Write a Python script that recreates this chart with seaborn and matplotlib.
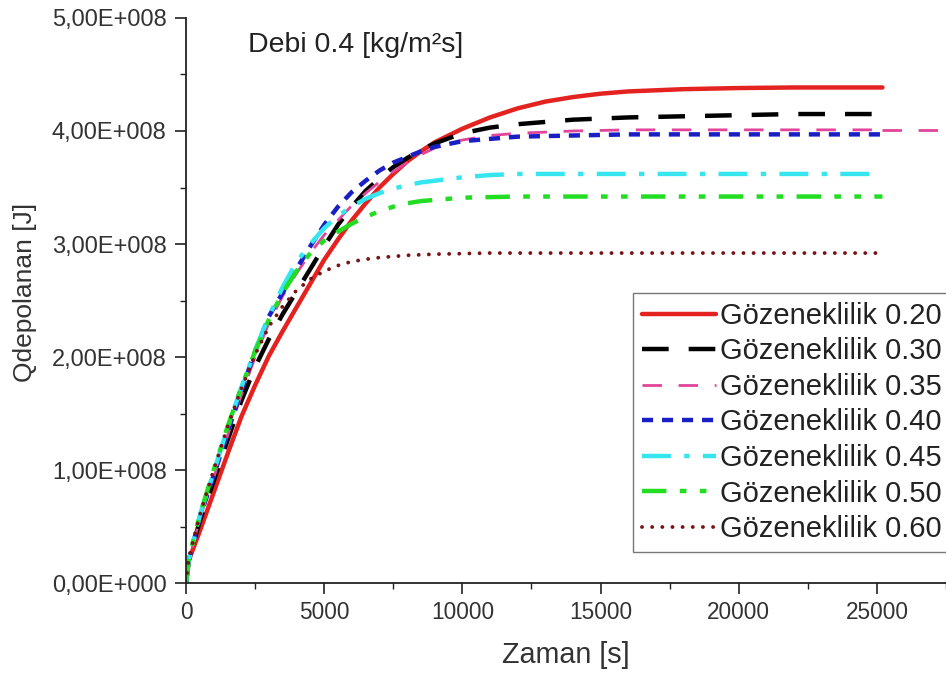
import matplotlib
matplotlib.use("Agg")
import matplotlib.pyplot as plt
import seaborn as sns
import pandas as pd
from matplotlib.ticker import MultipleLocator, FixedLocator

sns.set_style("ticks")
plt.rcParams['font.family'] = ['Liberation Sans', 'DejaVu Sans']

# Time [s]
zaman = [0, 100, 500, 1000, 1500, 2000, 2500, 3000, 3500, 4000, 4500, 5000,
         5500, 6000, 6500, 7000, 7500, 8000, 8500, 9000, 10000, 11000, 12000,
         13000, 14000, 15000, 16000, 18000, 20000, 22000, 25200]

# Stored energy, in units of 1e8 J
q_020 = [0, 0.20, 0.46, 0.80, 1.14, 1.47, 1.75, 2.01, 2.23, 2.44, 2.65, 2.86,
         3.04, 3.21, 3.36, 3.50, 3.62, 3.73, 3.82, 3.90, 4.02, 4.12, 4.20,
         4.26, 4.30, 4.33, 4.35, 4.37, 4.38, 4.385, 4.385]
q_030 = [0, 0.20, 0.55, 0.90, 1.26, 1.61, 1.91, 2.16, 2.38, 2.58, 2.78, 2.98,
         3.17, 3.33, 3.47, 3.58, 3.68, 3.76, 3.83, 3.89, 3.98, 4.03, 4.06,
         4.08, 4.10, 4.11, 4.12, 4.13, 4.14, 4.15, 4.15]
q_035 = [0, 0.20, 0.57, 0.93, 1.30, 1.66, 2.00, 2.30, 2.54, 2.74, 2.92, 3.08,
         3.21, 3.34, 3.45, 3.55, 3.64, 3.72, 3.79, 3.85, 3.92, 3.96, 3.98,
         3.99, 4.00, 4.005, 4.01, 4.01, 4.01, 4.01, 4.01]
q_040 = [0, 0.20, 0.58, 0.95, 1.33, 1.70, 2.05, 2.36, 2.57, 2.78, 2.98, 3.17,
         3.33, 3.46, 3.56, 3.65, 3.72, 3.77, 3.82, 3.86, 3.91, 3.93, 3.95,
         3.955, 3.96, 3.965, 3.97, 3.97, 3.97, 3.97, 3.97]
q_045 = [0, 0.20, 0.60, 0.98, 1.37, 1.73, 2.06, 2.36, 2.62, 2.84, 3.00, 3.14,
         3.25, 3.33, 3.40, 3.45, 3.49, 3.52, 3.545, 3.56, 3.59, 3.61, 3.62,
         3.62, 3.62, 3.62, 3.62, 3.62, 3.62, 3.62, 3.62]
q_050 = [0, 0.22, 0.60, 1.00, 1.38, 1.73, 2.05, 2.33, 2.57, 2.76, 2.92, 3.03,
         3.11, 3.18, 3.24, 3.29, 3.33, 3.36, 3.38, 3.39, 3.41, 3.415, 3.42,
         3.42, 3.42, 3.42, 3.42, 3.42, 3.42, 3.42, 3.42]
q_060 = [0, 0.22, 0.60, 1.00, 1.38, 1.72, 2.02, 2.27, 2.45, 2.59, 2.69, 2.76,
         2.81, 2.845, 2.865, 2.88, 2.89, 2.90, 2.905, 2.91, 2.915, 2.92, 2.92,
         2.92, 2.92, 2.92, 2.92, 2.92, 2.92, 2.92, 2.92]

# the 0.35 series continues beyond the plotted range
zaman_035_ext = [25200, 28000]
q_035_ext = [4.01, 4.01]

labels = ["Gözeneklilik 0.20", "Gözeneklilik 0.30", "Gözeneklilik 0.35",
          "Gözeneklilik 0.40", "Gözeneklilik 0.45", "Gözeneklilik 0.50",
          "Gözeneklilik 0.60"]
series = [q_020, q_030, q_035, q_040, q_045, q_050, q_060]

yticks = [0, 1e8, 2e8, 3e8, 4e8, 5e8]
ytick_labels = ["0,00E+000", "1,00E+008", "2,00E+008", "3,00E+008",
                "4,00E+008", "5,00E+008"]
xticks = [0, 5000, 10000, 15000, 20000, 25000]

colors = ["#e4221f", "#000000", "#e0459a", "#1a1fc4", "#35e6ee", "#22dd22", "#7a1414"]
styles = [
    dict(linestyle="-", lw=3.2),
    dict(linestyle=(0, (6, 4.5)), lw=3.2),
    dict(linestyle=(0, (7, 6)), lw=2.0),
    dict(linestyle=(0, (2.5, 2)), lw=3.2),
    dict(linestyle=(0, (6.5, 3, 1.2, 3)), lw=3.2),
    dict(linestyle=(0, (5.5, 3, 1.5, 3, 1.5, 3)), lw=3.2),
    dict(linestyle=(0, (0.01, 2.6)), lw=2.8, dash_capstyle="round"),
]

fig = plt.figure(figsize=(9.46, 6.78), dpi=100)
ax = fig.add_axes([0.1966, 0.140, 0.8034, 0.8335])

for lab, q, c, st in zip(labels, series, colors, styles):
    df = pd.DataFrame({"Zaman": zaman, "Q": [v * 1e8 for v in q]})
    sns.lineplot(data=df, x="Zaman", y="Q", ax=ax, color=c, label=lab, **st)
    if lab.endswith("0.35"):
        df2 = pd.DataFrame({"Zaman": zaman_035_ext, "Q": [v * 1e8 for v in q_035_ext]})
        sns.lineplot(data=df2, x="Zaman", y="Q", ax=ax, color=c, legend=False, **st)

ax.set_xlim(0, 27500)
ax.set_ylim(0, 5e8)
ax.yaxis.set_major_locator(FixedLocator(yticks))
ax.set_yticklabels(ytick_labels)
ax.yaxis.set_minor_locator(MultipleLocator(0.5e8))
ax.xaxis.set_major_locator(FixedLocator(xticks))
ax.set_xticklabels([str(t) for t in xticks])
ax.xaxis.set_minor_locator(MultipleLocator(2500))
ax.tick_params(axis="both", which="major", direction="out", length=8, width=1.2,
               colors="#222222", labelcolor="#333333")
ax.tick_params(axis="y", which="major", labelsize=17, pad=6)
ax.tick_params(axis="x", which="major", labelsize=16.3, pad=5)
ax.tick_params(axis="both", which="minor", direction="out", length=4.5, width=1.0,
               colors="#222222")
for s in ["top", "right"]:
    ax.spines[s].set_visible(False)
for s in ["left", "bottom"]:
    ax.spines[s].set_linewidth(1.3)
    ax.spines[s].set_color("#222222")

ax.set_xlabel("Zaman [s]", fontsize=20.7, color="#333333")
ax.set_ylabel("Qdepolanan [J]", fontsize=19, color="#333333")
ax.xaxis.set_label_coords(0.5, -0.103)
ax.yaxis.set_label_coords(-0.196, 0.515)

ax.text(0.0816, 0.952, "Debi 0.4 [kg/m²s]", transform=ax.transAxes,
        fontsize=20.5, color="#222222", va="center", ha="left")

leg = ax.legend(loc="upper left", bbox_to_anchor=(633 / 946, 1 - 293 / 678),
                bbox_transform=fig.transFigure, fontsize=21, frameon=True,
                fancybox=False, handlelength=2.55, handletextpad=0.12,
                labelspacing=0.26, borderpad=0.3, borderaxespad=0)
leg.get_frame().set_edgecolor("#555555")
leg.get_frame().set_linewidth(1.0)
for t in leg.get_texts():
    t.set_color("#222222")

fig.savefig("out.png", dpi=100)
